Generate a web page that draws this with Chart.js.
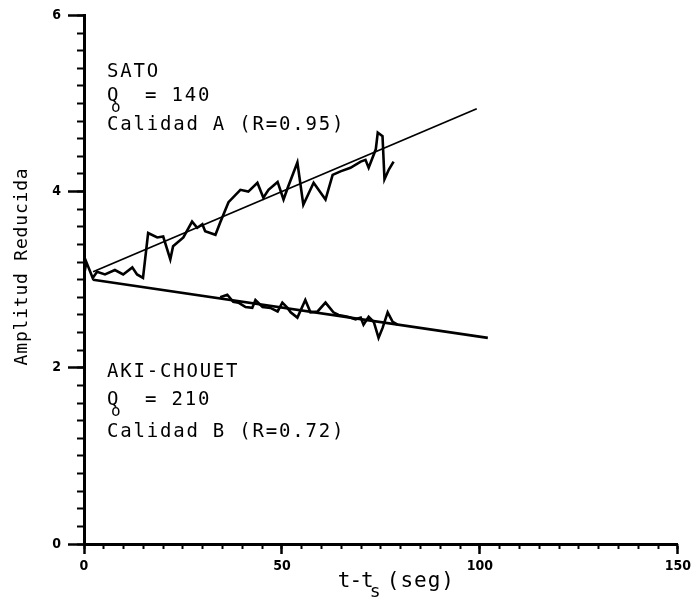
<!DOCTYPE html>
<html>
<head>
<meta charset="utf-8">
<script src="https://cdn.jsdelivr.net/npm/chart.js@4.4.0/dist/chart.umd.min.js"></script>
<style>
html, body { margin: 0; padding: 0; background: #fff; }
#chart { display: block; }
</style>
</head>
<body>
<canvas id="chart" width="695" height="601"></canvas>
<script>
// ===== DATA =====
// SATO: reduced amplitude vs t - ts, plus its fitted line
const satoT   = [0, 0.6, 2.2, 3.3, 5.3, 7.8, 9.9, 12.2, 13.4, 14.9, 16.2, 18.5, 20.0, 21.8, 22.5, 25.1, 27.3, 28.6, 29.9, 30.6,
                 33.2, 34.4, 36.5, 39.5, 41.5, 43.8, 45.3, 46.6, 48.9, 50.4, 51.6, 53.9, 55.4, 58.0, 61.0, 62.8, 64.8, 67.3,
                 69.9, 71.1, 71.9, 73.7, 74.2, 75.4, 75.9, 77.0, 78.2];
const satoAmp = [3.05, 3.20, 3.02, 3.09, 3.06, 3.11, 3.06, 3.14, 3.06, 3.02, 3.53, 3.48, 3.49, 3.23, 3.38, 3.48, 3.66, 3.59, 3.63, 3.55,
                 3.51, 3.65, 3.88, 4.02, 4.00, 4.10, 3.93, 4.02, 4.11, 3.91, 4.06, 4.33, 3.85, 4.10, 3.91, 4.19, 4.23, 4.27,
                 4.34, 4.36, 4.27, 4.48, 4.67, 4.63, 4.14, 4.25, 4.34];
const satoFitT   = [2.3, 99.2];
const satoFitAmp = [3.09, 4.94];

// AKI-CHOUET
const akiT   = [34.4, 36.2, 37.7, 39.0, 40.8, 42.5, 43.3, 45.1, 47.1, 48.9, 50.1, 51.4, 52.2, 53.9, 55.9, 57.2, 59.0, 61.0,
                63.0, 64.3, 66.6, 68.6, 69.9, 70.6, 71.9, 73.2, 74.4, 75.4, 76.7, 78.0, 79.2];
const akiAmp = [2.80, 2.83, 2.75, 2.74, 2.69, 2.68, 2.77, 2.69, 2.68, 2.64, 2.74, 2.68, 2.63, 2.57, 2.77, 2.63, 2.64, 2.74,
                2.63, 2.60, 2.58, 2.55, 2.57, 2.49, 2.58, 2.52, 2.34, 2.45, 2.63, 2.52, 2.49];
const akiFitT   = [2.3, 102];
const akiFitAmp = [3.00, 2.34];

const xTicks = [0, 50, 100, 150];
const yTicks = [0, 2, 4, 6];
const xMinorStep = 5;
const yMinorStep = 0.2;

const satoNote = ['SATO', '140', 'Calidad A (R=0.95)'];
const akiNote  = ['AKI-CHOUET', '210', 'Calidad B (R=0.72)'];

// ===== HELPERS =====
function toPoints(xs, ys) {
    return xs.map((x, i) => ({ x: x, y: ys[i] }));
}

function lineSet(xs, ys, width) {
    return {
        data: toPoints(xs, ys),
        showLine: true,
        borderColor: '#000',
        borderWidth: width,
        pointRadius: 0,
        tension: 0,
        fill: false
    };
}

const MONO = '"DejaVu Sans Mono", "Liberation Mono", monospace';
const TICK_FONT = { family: '"DejaVu Sans Condensed", "DejaVu Sans", sans-serif', size: 14, weight: 'bold' };

// white page + text the library has no element for
const notesPlugin = {
    id: 'notes',
    beforeDraw(chart) {
        const ctx = chart.ctx;
        ctx.save();
        ctx.fillStyle = '#fff';
        ctx.fillRect(0, 0, chart.width, chart.height);
        ctx.restore();
    },
    afterDraw(chart) {
        const ctx = chart.ctx;
        const xs = chart.scales.x, ys = chart.scales.y;
        const area = chart.chartArea;
        ctx.save();
        ctx.fillStyle = '#000';
        ctx.textAlign = 'left';
        ctx.textBaseline = 'alphabetic';

        function block(lines, x, y1, y2, y3) {
            const px = xs.getPixelForValue(x);
            ctx.font = '19px ' + MONO;
            ctx.letterSpacing = '1.8px';
            ctx.fillText(lines[0], px, ys.getPixelForValue(y1));
            const qy = ys.getPixelForValue(y2);
            ctx.fillText('Q', px, qy);
            ctx.fillText('= ' + lines[1], px + 38, qy);
            ctx.fillText(lines[2], px, ys.getPixelForValue(y3));
            ctx.font = '16px ' + MONO;
            ctx.letterSpacing = '0px';
            ctx.fillText('o', px + 4, qy + 11);
        }
        block(satoNote, 5.8, 5.30, 5.03, 4.70);
        block(akiNote, 5.8, 1.89, 1.58, 1.22);

        // x axis title: t-t_s(seg)
        const tx = xs.getPixelForValue(64.1);
        const tb = area.bottom + 43;
        ctx.font = '21px ' + MONO;
        ctx.letterSpacing = '-1px';
        ctx.fillText('t-t', tx, tb);
        ctx.font = '18px ' + MONO;
        ctx.letterSpacing = '0px';
        ctx.fillText('s', tx + 32, tb + 10);
        ctx.font = '21px ' + MONO;
        ctx.letterSpacing = '1px';
        ctx.fillText('(seg)', tx + 49, tb);

        // y axis title, rotated
        ctx.translate(27, ys.getPixelForValue(3.15));
        ctx.rotate(-Math.PI / 2);
        ctx.textAlign = 'center';
        ctx.font = '18px ' + MONO;
        ctx.letterSpacing = '0.8px';
        ctx.fillText('Amplitud Reducida', 0, 0);
        ctx.restore();
    }
};

// ===== CHART =====
new Chart(document.getElementById('chart'), {
    type: 'scatter',
    data: {
        datasets: [
            lineSet(satoT, satoAmp, 2.6),
            lineSet(satoFitT, satoFitAmp, 1.8),
            lineSet(akiT, akiAmp, 2.6),
            lineSet(akiFitT, akiFitAmp, 2.6)
        ]
    },
    options: {
        responsive: false,
        animation: false,
        events: [],
        layout: { padding: { top: 15, right: 17, bottom: 0, left: 0 } },
        plugins: { legend: { display: false }, tooltip: { enabled: false } },
        scales: {
            x: {
                type: 'linear', position: 'bottom', weight: 1,
                min: 0, max: 150,
                afterBuildTicks: s => { s.ticks = xTicks.map(v => ({ value: v })); },
                afterFit: s => { s.height = 57; },
                ticks: { color: '#000', font: TICK_FONT, padding: 4, maxRotation: 0, autoSkip: false },
                grid: { display: true, drawOnChartArea: false, tickLength: 10, tickWidth: 2.5, tickColor: '#000' },
                border: { display: true, color: '#000', width: 3 }
            },
            xMinor: {
                type: 'linear', position: 'bottom', weight: 0,
                min: 0, max: 150,
                ticks: { display: false, stepSize: xMinorStep, autoSkip: false },
                afterFit: s => { s.height = 0; },
                grid: { display: true, drawOnChartArea: false, tickLength: 5, tickWidth: 2, tickColor: '#000' },
                border: { display: false }
            },
            y: {
                type: 'linear', position: 'left', weight: 1,
                min: 0, max: 6,
                afterBuildTicks: s => { s.ticks = yTicks.map(v => ({ value: v })); },
                afterFit: s => { s.width = 84; },
                ticks: { color: '#000', font: TICK_FONT, padding: 7, autoSkip: false },
                grid: { display: true, drawOnChartArea: false, tickLength: 16, tickWidth: 2.5, tickColor: '#000' },
                border: { display: true, color: '#000', width: 3 }
            },
            yMinor: {
                type: 'linear', position: 'left', weight: 0,
                min: 0, max: 6,
                ticks: { display: false, stepSize: yMinorStep, autoSkip: false },
                afterFit: s => { s.width = 0; },
                grid: { display: true, drawOnChartArea: false, tickLength: 7, tickWidth: 2, tickColor: '#000' },
                border: { display: false }
            }
        }
    },
    plugins: [notesPlugin]
});
</script>
</body>
</html>
